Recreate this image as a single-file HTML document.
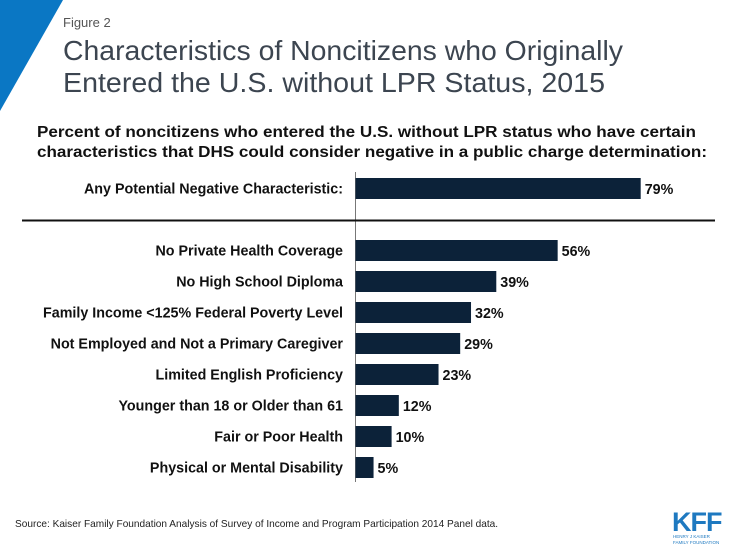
<!DOCTYPE html>
<html><head><meta charset="utf-8"><style>
body{margin:0;width:735px;height:551px;background:#fff;overflow:hidden;font-family:"Liberation Sans",Arial,sans-serif;position:relative}
</style></head><body>
<svg width="735" height="551" style="position:absolute;left:0;top:0">
<polygon points="0,0 63,0 0,111" fill="#0a77c4"/>
<text x="63" y="27" font-size="13" fill="#555">Figure 2</text>
<text x="63" y="60" font-size="28" fill="#3c4550" textLength="560" lengthAdjust="spacingAndGlyphs">Characteristics of Noncitizens who Originally</text>
<text x="63" y="92" font-size="28" fill="#3c4550" textLength="542" lengthAdjust="spacingAndGlyphs">Entered the U.S. without LPR Status, 2015</text>
<text x="37" y="137" font-size="16" font-weight="bold" fill="#111" textLength="659" lengthAdjust="spacingAndGlyphs">Percent of noncitizens who entered the U.S. without LPR status who have certain</text>
<text x="37" y="157" font-size="16" font-weight="bold" fill="#111" textLength="670" lengthAdjust="spacingAndGlyphs">characteristics that DHS could consider negative in a public charge determination:</text>
<line x1="355.5" y1="172" x2="355.5" y2="482" stroke="#777" stroke-width="1"/>
<line x1="22" y1="220.5" x2="715" y2="220.5" stroke="#111" stroke-width="2"/>
<g id="bars"></g>
<text x="15" y="527" font-size="10.1" fill="#222">Source: Kaiser Family Foundation Analysis of Survey of Income and Program Participation 2014 Panel data.</text>
<text x="672" y="531" font-size="27" font-weight="bold" fill="#1e79c0" letter-spacing="-1">KFF</text>
<text x="673" y="538" font-size="4.5" fill="#1e79c0">HENRY J KAISER</text>
<text x="673" y="544" font-size="4.5" fill="#1e79c0">FAMILY FOUNDATION</text>
</svg>
<script>
const categories=["Any Potential Negative Characteristic:","No Private Health Coverage","No High School Diploma","Family Income <125% Federal Poverty Level","Not Employed and Not a Primary Caregiver","Limited English Proficiency","Younger than 18 or Older than 61","Fair or Poor Health","Physical or Mental Disability"];
const values=[79,56,39,32,29,23,12,10,5];
const labels=["79%","56%","39%","32%","29%","23%","12%","10%","5%"];
const x0=355.5, k=3.61;
function xs(v){return x0+v*k;}
function yc(i){return i===0?188.5:250.5+(i-1)*31;}
const g=document.getElementById('bars');const NS="http://www.w3.org/2000/svg";
categories.forEach((c,i)=>{
 const r=document.createElementNS(NS,'rect');
 r.setAttribute('x',x0);r.setAttribute('y',yc(i)-10.5);r.setAttribute('width',xs(values[i])-x0);r.setAttribute('height',21);r.setAttribute('fill','#0c2239');
 
 
 g.appendChild(r);
 const t=document.createElementNS(NS,'text');
 t.setAttribute('x',343);t.setAttribute('y',yc(i)+5);t.setAttribute('text-anchor','end');t.setAttribute('font-size','14.3');t.setAttribute('font-weight','bold');t.setAttribute('fill','#111');t.textContent=c;
 
 
 g.appendChild(t);
 const v=document.createElementNS(NS,'text');
 v.setAttribute('x',xs(values[i])+4);v.setAttribute('y',yc(i)+5.5);v.setAttribute('font-size','14.3');v.setAttribute('font-weight','bold');v.setAttribute('fill','#111');v.textContent=labels[i];
 
 
 g.appendChild(v);
});
</script>
</body></html>
